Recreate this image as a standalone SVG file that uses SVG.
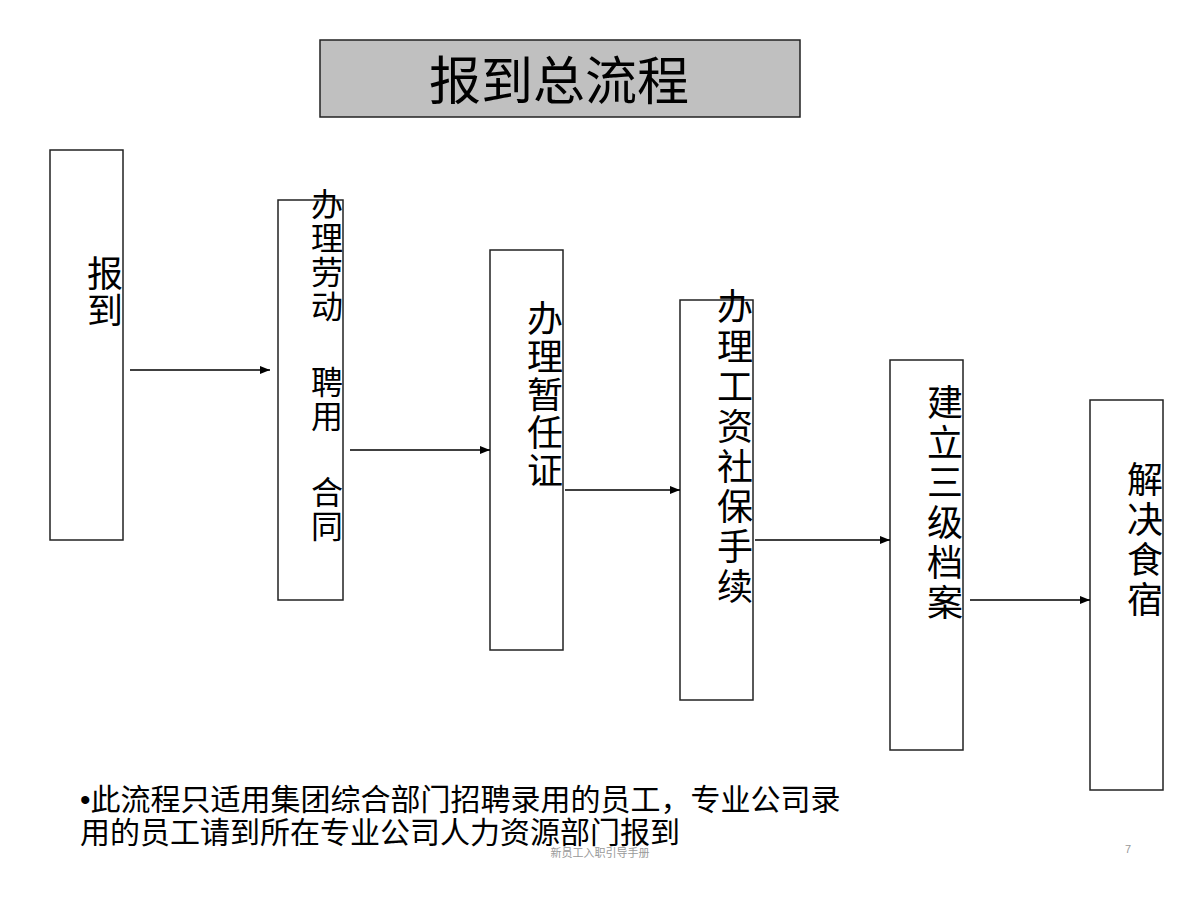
<svg xmlns="http://www.w3.org/2000/svg" width="1200" height="900" viewBox="0 0 1200 900">
<style>
.box{fill:#fff;stroke:#222;stroke-width:1.5}
.v{font-family:"Noto Sans CJK SC","Noto Sans CJK JP",sans-serif;font-size:36px;fill:#000;writing-mode:vertical-rl;text-orientation:upright}
.c{stroke:#000;stroke-width:1.3;fill:none;marker-end:url(#ah)}
.t{font-family:"Noto Sans CJK SC","Noto Sans CJK JP",sans-serif;fill:#000}
.n{font-family:"Liberation Sans","Noto Sans CJK SC",sans-serif;font-size:30px;fill:#000}
</style>
<defs>
<marker id="ah" markerWidth="10" markerHeight="8" refX="10" refY="4" orient="auto" markerUnits="userSpaceOnUse">
<path d="M0,0 L10,4 L0,8 Z" fill="#000"/>
</marker>
</defs>
<rect width="1200" height="900" fill="#fff"/>
<g id="title">
<rect x="320" y="40" width="480" height="77" fill="#c0c0c0" stroke="#222" stroke-width="1.5"/>
<text class="t" x="559" y="100" font-size="52" text-anchor="middle">报到总流程</text>
</g>
<g id="n1">
<rect class="box" x="50" y="150" width="73" height="390"/>
<text class="v" x="105" y="255" letter-spacing="1">报到</text>
</g>
<g id="n2">
<rect class="box" x="278" y="200" width="65" height="400"/>
<text class="v" x="327" y="188" style="font-size:32px" letter-spacing="2">办理劳动</text>
<text class="v" x="327" y="366" style="font-size:32px" letter-spacing="2">聘用</text>
<text class="v" x="327" y="476" style="font-size:32px" letter-spacing="2">合同</text>
</g>
<g id="n3">
<rect class="box" x="490" y="250" width="73" height="400"/>
<text class="v" x="545" y="300" letter-spacing="2">办理暂任证</text>
</g>
<g id="n4">
<rect class="box" x="680" y="300" width="73" height="400"/>
<text class="v" x="735" y="288" letter-spacing="4">办理工资社保手续</text>
</g>
<g id="n5">
<rect class="box" x="890" y="360" width="73" height="390"/>
<text class="v" x="945" y="384" letter-spacing="4">建立三级档案</text>
</g>
<g id="n6">
<rect class="box" x="1090" y="400" width="73" height="390"/>
<text class="v" x="1145" y="461" letter-spacing="4">解决食宿</text>
</g>
<g id="connectors">
<line class="c" x1="130" y1="370" x2="270" y2="370"/>
<line class="c" x1="350" y1="450" x2="490" y2="450"/>
<line class="c" x1="565" y1="490" x2="680" y2="490"/>
<line class="c" x1="755" y1="540" x2="890" y2="540"/>
<line class="c" x1="970" y1="600" x2="1090" y2="600"/>
</g>
<g id="note">
<text class="n" x="80" y="810">•此流程只适用集团综合部门招聘录用的员工，专业公司录</text>
<text class="n" x="80" y="843">用的员工请到所在专业公司人力资源部门报到</text>
</g>
<g id="footer">
<text class="t" x="600" y="857" font-size="11" text-anchor="middle" style="fill:#999">新员工入职引导手册</text>
<text x="1125" y="853" font-size="11" font-family="Liberation Sans, sans-serif" fill="#999">7</text>
</g>
</svg>
